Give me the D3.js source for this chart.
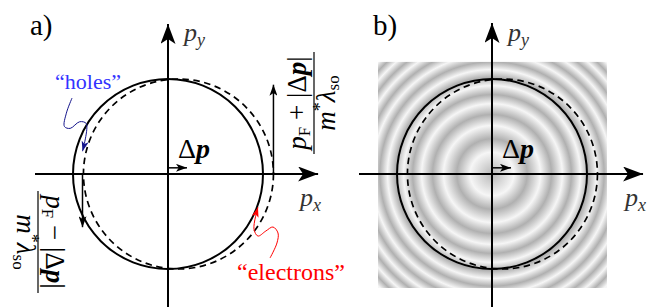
<!DOCTYPE html>
<html>
<head>
<meta charset="utf-8">
<script src="https://cdn.jsdelivr.net/npm/d3@7"></script>
<style>
  body { margin: 0; background: #fff; }
</style>
</head>
<body>
<div id="chart-area"></div>
<script>
// momentum units: pF = 1
var pF = 1;
var shift = 0.11;                 // centre of the dashed circle (Δp)
var dpArrow = [0, 0.2];           // small Δp arrow along px
var axisRangeA = [-1.4, 1.58];
var axisRangeB = [-1.4, 1.59];
var upArrow = [1.11, 0, 0.94];    // x, y from, y to
var downArrow = [-0.9, 0, -0.56];
var ringRadii = [0.23, 0.51, 0.74, 0.93, 1.1, 1.26, 1.41, 1.55, 1.68];
var squareB = [-1.2, 1.21, -1.2, 1.18];
var holesPath = [[-1.01, 0.80], [-1.07, 0.64], [-1.09, 0.50], [-1.03, 0.48], [-0.93, 0.55], [-0.86, 0.53], [-0.9, 0.24]];
var electronsPath = [[1.074, -0.884], [1.147, -0.726], [1.158, -0.621], [1.105, -0.558], [1.03, -0.6], [0.947, -0.653], [0.905, -0.579], [0.947, -0.35]];

var width = 659, height = 307;
var unit = 95;

var svg = d3.select("#chart-area")
    .append("svg")
        .attr("width", width)
        .attr("height", height);

var defs = svg.append("defs");

function marker(id, len, half, color){
    defs.append("marker")
        .attr("id", id)
        .attr("markerUnits", "userSpaceOnUse")
        .attr("viewBox", (-len) + " " + (-half) + " " + (len + 1) + " " + (2 * half))
        .attr("refX", 0).attr("refY", 0)
        .attr("markerWidth", len + 1).attr("markerHeight", 2 * half)
        .attr("orient", "auto")
        .append("path")
            .attr("d", "M0,0 L" + (-len) + "," + (-half) + " L" + (-len * 0.75) + ",0 L" + (-len) + "," + half + " Z")
            .attr("fill", color);
}
marker("big", 20, 7.5, "#000");
marker("small", 11, 4, "#000");
marker("blue", 10, 3.5, "#14148c");
marker("red", 10, 3.5, "#ff0000");

// ring pattern for panel b
var gMax = 1.7;
var grad = defs.append("radialGradient")
    .attr("id", "rings")
    .attr("gradientUnits", "userSpaceOnUse")
    .attr("cx", 492).attr("cy", 174).attr("r", gMax * unit);
grad.append("stop").attr("offset", 0).attr("stop-color", "#b8b8b8");
ringRadii.forEach(function(r, i){
    var prev = i == 0 ? 0 : ringRadii[i - 1];
    if (i > 0) {
        grad.append("stop").attr("offset", (prev + r) / 2 / gMax).attr("stop-color", "#b0b0b0");
    }
    grad.append("stop").attr("offset", r / gMax).attr("stop-color", "#f6f6f6");
});

function panel(ox, axisRange, label, labelX, opts){
    var x = d3.scaleLinear().domain([-1, 1]).range([ox - unit, ox + unit]);
    var y = d3.scaleLinear().domain([-1, 1]).range([174 + unit, 174 - unit]);
    var g = svg.append("g");

    if (opts.square) {
        g.append("rect")
            .attr("x", x(squareB[0]))
            .attr("y", y(squareB[3]))
            .attr("width", x(squareB[1]) - x(squareB[0]))
            .attr("height", y(squareB[2]) - y(squareB[3]))
            .attr("fill", "url(#rings)");
    }

    // axes
    g.append("line")
        .attr("x1", x(axisRange[0])).attr("y1", y(0))
        .attr("x2", x(axisRange[1])).attr("y2", y(0))
        .attr("stroke", "#000").attr("stroke-width", 2)
        .attr("marker-end", "url(#big)");
    g.append("line")
        .attr("x1", x(0)).attr("y1", y(axisRange[0]) + 10)
        .attr("x2", x(0)).attr("y2", y(axisRange[1]))
        .attr("stroke", "#000").attr("stroke-width", 2)
        .attr("marker-end", "url(#big)");

    // Fermi circles
    g.append("circle")
        .attr("cx", x(0)).attr("cy", y(0)).attr("r", x(pF) - x(0))
        .attr("fill", "none").attr("stroke", "#000").attr("stroke-width", 2);
    g.append("circle")
        .attr("cx", x(shift)).attr("cy", y(0)).attr("r", x(pF) - x(0))
        .attr("fill", "none").attr("stroke", "#000").attr("stroke-width", 1.7)
        .attr("stroke-dasharray", "6.5,4.5");

    // Δp arrow
    g.append("line")
        .attr("x1", x(dpArrow[0])).attr("y1", y(0.065))
        .attr("x2", x(dpArrow[1])).attr("y2", y(0.065))
        .attr("stroke", "#000").attr("stroke-width", 1.5)
        .attr("marker-end", "url(#small)");

    // labels
    g.append("text").attr("x", labelX).attr("y", 35)
        .attr("font-size", 29).text(label);

    var py = g.append("text").attr("x", x(0) + 16).attr("y", 41).attr("font-size", 26).attr("fill", "#333");
    py.append("tspan").attr("font-style", "italic").text("p");
    py.append("tspan").attr("font-style", "italic").attr("font-size", 18).attr("dy", 5).text("y");

    var px = g.append("text").attr("x", x(axisRange[1]) - 18).attr("y", 206).attr("font-size", 26).attr("fill", "#333");
    px.append("tspan").attr("font-style", "italic").text("p");
    px.append("tspan").attr("font-style", "italic").attr("font-size", 18).attr("dy", 5).text("x");

    var dp = g.append("text").attr("x", x(0) + 10).attr("y", 158).attr("font-size", 28);
    dp.append("tspan").text("Δ");
    dp.append("tspan").attr("font-style", "italic").attr("font-weight", "bold").text("p");

    return { x: x, y: y, g: g };
}

var a = panel(168, axisRangeA, "a)", 30, {});
var b = panel(492, axisRangeB, "b)", 373, { square: true });

// panel a extras: vertical arrows
[upArrow, downArrow].forEach(function(d){
    a.g.append("line")
        .attr("x1", a.x(d[0])).attr("y1", a.y(d[1]))
        .attr("x2", a.x(d[0])).attr("y2", a.y(d[2]))
        .attr("stroke", "#000").attr("stroke-width", 1.5)
        .attr("marker-end", "url(#small)");
});

// rotated fraction labels
function fraction(cx, cy, angle, sign){
    var f = a.g.append("g").attr("transform", "translate(" + cx + "," + cy + ") rotate(" + angle + ")");
    f.append("line").attr("x1", -51).attr("x2", 51).attr("y1", 0).attr("y2", 0)
        .attr("stroke", "#000").attr("stroke-width", 1.2);
    var num = f.append("text").attr("x", 0).attr("y", -8).attr("font-size", 27).attr("text-anchor", "middle");
    num.append("tspan").attr("font-style", "italic").text("p");
    num.append("tspan").attr("font-size", 17).attr("dy", 4).text("F");
    num.append("tspan").attr("dy", -4).text(" " + sign + " |Δ");
    num.append("tspan").attr("font-style", "italic").attr("font-weight", "bold").text("p");
    num.append("tspan").text("|");
    var den = f.append("text").attr("x", 0).attr("y", 21).attr("font-size", 27).attr("text-anchor", "middle");
    den.append("tspan").attr("font-style", "italic").text("m");
    den.append("tspan").attr("font-size", 18).attr("dy", -9).text("*");
    den.append("tspan").attr("font-style", "italic").attr("dy", 9).text("λ");
    den.append("tspan").attr("font-size", 17).attr("dy", 4).text("so");
}
fraction(314, 103, -90, "+");
fraction(38, 242, 90, "−");

// "holes" and "electrons" annotations
var curve = d3.line()
    .x(function(d){ return a.x(d[0]); })
    .y(function(d){ return a.y(d[1]); })
    .curve(d3.curveCatmullRom);

a.g.append("path").attr("d", curve(holesPath))
    .attr("fill", "none").attr("stroke", "#14148c").attr("stroke-width", 1)
    .attr("marker-end", "url(#blue)");
a.g.append("text").attr("x", 55).attr("y", 89).attr("font-size", 22)
    .attr("fill", "#3333ff").text("“holes”");

a.g.append("path").attr("d", curve(electronsPath))
    .attr("fill", "none").attr("stroke", "#ff0000").attr("stroke-width", 1)
    .attr("marker-end", "url(#red)");
a.g.append("text").attr("x", 237).attr("y", 280).attr("font-size", 24)
    .attr("fill", "#ff0000").text("“electrons”");

// serif font on every label
svg.selectAll("text").style("font-family", "'Liberation Serif'");
</script>
</body>
</html>
